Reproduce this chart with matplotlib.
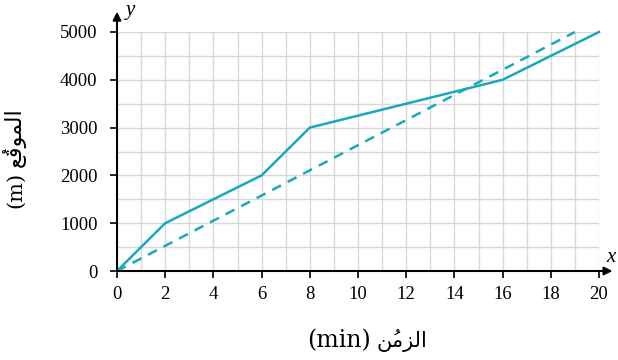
import matplotlib
matplotlib.use("Agg")
import matplotlib.pyplot as plt

# data
time_solid = [0, 2, 6, 8, 16, 20]
pos_solid = [0, 1000, 2000, 3000, 4000, 5000]
time_dashed = [0, 19]
pos_dashed = [0, 5000]

x_ticks = list(range(0, 21, 2))
y_ticks = list(range(0, 5001, 1000))

TEAL = '#19a9b9'
FONT = ['Liberation Serif', 'DejaVu Sans']

# Arabic written in presentation forms, visual (left-to-right) order
x_ar = '\uFEE6\u064F\uFEE3\uFEB0\uFEDF\uFE8D'
y_ar = '\uFECA\u064F\uFED7\uFEEE\uFEE4\uFEDF\uFE8D'

plt.rcParams['font.family'] = FONT

fig = plt.figure(figsize=(6.18, 3.6), dpi=100)
ax = fig.add_axes([117 / 618, 1 - 271 / 360, 482 / 618, 239 / 360])

ax.set_xlim(0, 20)
ax.set_ylim(0, 5000)

ax.set_xticks(range(0, 21, 1), minor=True)
ax.set_yticks(range(0, 5001, 500), minor=True)
ax.set_xticks(x_ticks)
ax.set_yticks(y_ticks)
ax.grid(which='both', color='#d8d8d8', lw=1.0, zorder=0)
ax.tick_params(which='minor', length=0)
ax.tick_params(which='major', direction='out', length=5, width=1.2,
               labelsize=13.5)
ax.tick_params(axis='y', pad=9)
ax.tick_params(axis='x', pad=6)

for s in ['top', 'right', 'left', 'bottom']:
    ax.spines[s].set_visible(False)

ax.plot(time_solid, pos_solid, color=TEAL, lw=1.8, zorder=3, clip_on=False)
ax.plot(time_dashed, pos_dashed, color=TEAL, lw=1.8, ls=(0, (4, 3)), zorder=3,
        clip_on=False)

# axes with arrow heads
ax.annotate('', xy=(1.028, 0), xytext=(0, 0), xycoords='axes fraction',
            arrowprops=dict(arrowstyle='-|>', color='black', lw=1.5,
                            mutation_scale=12, shrinkA=0, shrinkB=0),
            annotation_clip=False)
ax.annotate('', xy=(0, 1.085), xytext=(0, 0), xycoords='axes fraction',
            arrowprops=dict(arrowstyle='-|>', color='black', lw=1.5,
                            mutation_scale=12, shrinkA=0, shrinkB=0),
            annotation_clip=False)
ax.text(1.025, 0.055, 'x', transform=ax.transAxes, fontsize=15,
        style='italic', ha='center', va='center')
ax.text(0.028, 1.09, 'y', transform=ax.transAxes, fontsize=15,
        style='italic', ha='center', va='center')

# x axis label: "(min)" then the Arabic word on its right
fig.text(371 / 618, 1 - 347 / 360, '(min)', fontsize=17, ha='right',
         va='baseline', family='DejaVu Serif')
fig.text(376 / 618, 1 - 347 / 360, x_ar, fontsize=15, ha='left',
         va='baseline', family='DejaVu Sans')

# y axis label, read bottom to top
fig.text(21 / 618, 1 - 172 / 360, '(m)', fontsize=15, ha='right',
         va='baseline', rotation=90, rotation_mode='anchor',
         family='DejaVu Serif')
fig.text(21 / 618, 1 - 167 / 360, y_ar, fontsize=16, ha='left',
         va='baseline', rotation=90, rotation_mode='anchor',
         family='DejaVu Sans')

fig.savefig('out.png', dpi=100)
